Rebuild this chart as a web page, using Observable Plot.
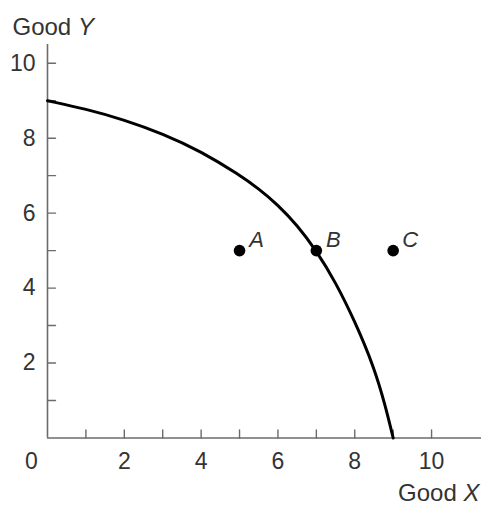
<!DOCTYPE html>
<html><head><meta charset="utf-8">
<script src="https://cdn.jsdelivr.net/npm/d3@7"></script>
<script src="https://cdn.jsdelivr.net/npm/@observablehq/plot@0.6"></script>
<style>body{margin:0;background:#fff}</style>
</head><body><div id="chart"></div>
<script>
// Production possibilities frontier
const curveX = [0, 1, 2, 3, 4, 5, 5.5, 6, 6.5, 7, 7.5, 8, 8.5, 8.8, 9];
const curveY = [9, 8.78, 8.49, 8.12, 7.65, 7.02, 6.65, 6.22, 5.68, 5.0, 4.16, 3.12, 1.90, 0.85, 0];
// Labelled points
const pointNames = ["A", "B", "C"];
const pointX = [5, 7, 9];
const pointY = [5, 5, 5];
// Ticks and labels
const xTicks = [1, 2, 3, 4, 5, 6, 7, 8, 9, 10];
const yTicks = [1, 2, 3, 4, 5, 6, 7, 8, 9, 10];
const xTickLabels = [0, 2, 4, 6, 8, 10];
const yTickLabels = [2, 4, 6, 8, 10];
const xTitle = "Good X";
const yTitle = "Good Y";

const curve = curveX.map((x, i) => ({x, y: curveY[i]}));
const points = pointNames.map((name, i) => ({name, x: pointX[i], y: pointY[i]}));

const font = "'Liberation Sans', Arial, sans-serif";
const ink = "#333";
const axisColor = "#6b6b6b";
const tickShape = {draw(ctx, l) { ctx.moveTo(0, 0); ctx.lineTo(0, -l); }};

const chart = Plot.plot({
  width: 483,
  height: 505,
  marginLeft: 47,
  marginRight: 2,
  marginTop: 44,
  marginBottom: 67.5,
  x: {domain: [0, 11.3], axis: null},
  y: {domain: [0, 10.5], axis: null},
  style: {fontFamily: font, background: "white", overflow: "visible"},
  marks: [
    Plot.ruleX([0], {stroke: axisColor, strokeWidth: 1.6}),
    Plot.ruleY([0], {stroke: axisColor, strokeWidth: 1.6}),
    Plot.vector(xTicks, {x: d => d, y: 0, length: 8, anchor: "start", rotate: 0, shape: tickShape, stroke: axisColor, strokeWidth: 1.4}),
    Plot.vector(yTicks, {x: 0, y: d => d, length: 8, anchor: "start", rotate: 90, shape: tickShape, stroke: axisColor, strokeWidth: 1.4}),
    Plot.text(xTickLabels.filter(d => d !== 0), {x: d => d, y: 0, dy: 24, text: d => String(d), fontSize: 23, fill: ink}),
    Plot.text(xTickLabels.filter(d => d === 0), {x: d => d, y: 0, dy: 24, dx: -16, text: d => String(d), fontSize: 23, fill: ink}),
    Plot.text(yTickLabels, {x: 0, y: d => d, dx: -12, textAnchor: "end", text: d => String(d), fontSize: 23, fill: ink}),
    Plot.line(curve, {x: "x", y: "y", curve: "basis", stroke: "black", strokeWidth: 3}),
    Plot.dot(points, {x: "x", y: "y", r: 5.8, fill: "black"}),
    Plot.text(points, {x: "x", y: "y", text: "name", dx: 17, dy: -11, fontStyle: "italic", fontSize: 22, fill: ink}),
    Plot.text([yTitle], {frameAnchor: "top-left", textAnchor: "start", lineAnchor: "middle", dx: -35, dy: -17, fontSize: 24, fill: ink}),
    Plot.text([xTitle], {frameAnchor: "bottom-right", textAnchor: "end", lineAnchor: "middle", dx: -2, dy: 55, fontSize: 24, fill: ink})
  ]
});

// italicise the variable letter in the axis titles
d3.select(chart).selectAll("text").filter(function() {
  return this.textContent === xTitle || this.textContent === yTitle;
}).each(function() {
  const t = this.textContent;
  const i = t.lastIndexOf(" ");
  const sel = d3.select(this).text(null);
  sel.append("tspan").text(t.slice(0, i + 1));
  sel.append("tspan").attr("font-style", "italic").text(t.slice(i + 1));
});

document.getElementById("chart").appendChild(chart);
</script>
</body></html>
